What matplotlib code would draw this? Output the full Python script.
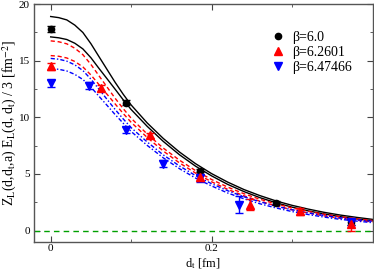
import matplotlib
matplotlib.use("Agg")
import matplotlib.pyplot as plt
from matplotlib.ticker import MultipleLocator

plt.rcParams['font.family'] = ['Liberation Serif', 'DejaVu Serif']
plt.rcParams['mathtext.fontset'] = 'stix'

# fit bands (finer grid near the peak)
xfit = [0.00, 0.01, 0.02, 0.03, 0.04, 0.05, 0.06, 0.07, 0.08, 0.09, 0.10,
        0.12, 0.14, 0.16, 0.18, 0.20, 0.22, 0.24, 0.26, 0.28, 0.30,
        0.32, 0.34, 0.36, 0.38, 0.40]
b60_hi = [18.90, 18.80, 18.60, 18.14, 17.49, 16.50, 15.36, 14.23, 13.10, 12.05, 11.09,
          9.50, 8.13, 6.94, 5.91, 5.03, 4.28, 3.63, 3.09, 2.62, 2.23,
          1.90, 1.61, 1.37, 1.17, 0.99]
b60_lo = [17.10, 17.02, 16.87, 16.54, 16.04, 15.26, 14.32, 13.41, 12.49, 11.56, 10.69,
          9.20, 7.87, 6.70, 5.69, 4.83, 4.08, 3.45, 2.91, 2.46, 2.07,
          1.74, 1.47, 1.23, 1.03, 0.87]
b626_hi = [16.75, 16.67, 16.49, 16.10, 15.53, 14.67, 13.67, 12.68, 11.69, 10.78, 9.92,
           8.52, 7.28, 6.22, 5.30, 4.51, 3.84, 3.26, 2.77, 2.35, 2.00,
           1.70, 1.44, 1.23, 1.04, 0.89]
b626_lo = [15.45, 15.39, 15.24, 14.93, 14.45, 13.74, 12.89, 12.04, 11.19, 10.35, 9.56,
           8.22, 7.02, 5.98, 5.08, 4.31, 3.64, 3.08, 2.59, 2.19, 1.84,
           1.56, 1.30, 1.09, 0.92, 0.77]
b647_hi = [15.20, 15.13, 14.96, 14.63, 14.13, 13.37, 12.48, 11.59, 10.70, 9.87, 9.09,
           7.82, 6.68, 5.71, 4.86, 4.14, 3.52, 2.99, 2.55, 2.16, 1.84,
           1.56, 1.33, 1.13, 0.96, 0.82]
b647_lo = [14.30, 14.24, 14.09, 13.79, 13.34, 12.67, 11.86, 11.06, 10.25, 9.49, 8.75,
           7.52, 6.42, 5.47, 4.64, 3.94, 3.32, 2.81, 2.37, 2.00, 1.68,
           1.42, 1.19, 0.99, 0.84, 0.70]

# lattice data
x60 = [0.0, 0.093, 0.186, 0.280, 0.373]
y60 = [17.8, 11.3, 5.3, 2.45, 0.75]
e60 = [0.3, 0.2, 0.15, 0.15, 0.25]

x626 = [0.0, 0.062, 0.124, 0.186, 0.248, 0.310, 0.373]
y626 = [14.5, 12.6, 8.4, 4.7, 2.3, 1.7, 0.55]
e626 = [0.3, 0.25, 0.2, 0.3, 0.5, 0.3, 0.6]

x647 = [0.0, 0.047, 0.093, 0.140, 0.186, 0.234, 0.373]
y647 = [13.0, 12.8, 8.9, 5.9, 4.6, 2.3, 0.75]
e647 = [0.3, 0.3, 0.25, 0.3, 0.35, 0.75, 0.3]

fig = plt.figure(figsize=(3.74, 2.70), dpi=100)
ax = fig.add_axes([0.091, 0.104, 0.905, 0.881])

ax.axhline(0, color='#00a000', ls='--', lw=1.0, dashes=(4, 3))

ax.plot(xfit, b60_hi, color='black', lw=1.0)
ax.plot(xfit, b60_lo, color='black', lw=1.0)
ax.plot(xfit, b626_hi, color='red', lw=1.0, ls='--', dashes=(3, 2))
ax.plot(xfit, b626_lo, color='red', lw=1.0, ls='--', dashes=(3, 2))
ax.plot(xfit, b647_hi, color='blue', lw=1.0, ls='-.', dashes=(3, 1.5, 1, 1.5))
ax.plot(xfit, b647_lo, color='blue', lw=1.0, ls='-.', dashes=(3, 1.5, 1, 1.5))

ax.errorbar(x60, y60, yerr=e60, fmt='o', color='black', ms=4.5, capsize=3,
            elinewidth=1, label='β=6.0')
ax.errorbar(x647, y647, yerr=e647, fmt='v', color='blue', ms=5.5, capsize=3,
            elinewidth=1, label='β=6.47466')
ax.errorbar(x626, y626, yerr=e626, fmt='^', color='red', ms=5.5, capsize=3,
            elinewidth=1, label='β=6.2601')

ax.set_xlim(-0.0207, 0.40)
ax.set_ylim(-1.0, 20.0)
ax.xaxis.set_minor_locator(MultipleLocator(0.1))
ax.yaxis.set_major_locator(MultipleLocator(5))
ax.yaxis.set_minor_locator(MultipleLocator(2.5))
ax.set_xticks([0, 0.2])
ax.set_xticklabels(['0', '0.2'])
ax.tick_params(which='both', direction='in', top=True, right=True, labelsize=8,
               color='#444444')
ax.tick_params(axis='x', pad=1.5)
ax.tick_params(axis='y', pad=3)
ax.tick_params(which='major', length=4)
ax.tick_params(which='minor', length=2.5)
for s in ax.spines.values():
    s.set_color('#555555')
    s.set_linewidth(1.0)

ax.set_xlabel(r'd$_\mathrm{t}$ [fm]', fontsize=9)
ax.xaxis.set_label_coords(0.5, -0.062)
ax.set_ylabel(r'Z$_\mathrm{L}$(d,d$_\mathrm{t}$,a) E$_\mathrm{L}$(d, d$_\mathrm{t}$) / 3 [fm$^{-2}$]',
              fontsize=10, labelpad=0)

h, l = ax.get_legend_handles_labels()
order = [0, 2, 1]
ax.legend([h[i][0] for i in order], [l[i] for i in order], loc='upper right',
          bbox_to_anchor=(0.975, 0.94), frameon=False, fontsize=10,
          handlelength=0.8, handletextpad=0.6, labelspacing=0.15)

fig.savefig('out.png', dpi=100)
